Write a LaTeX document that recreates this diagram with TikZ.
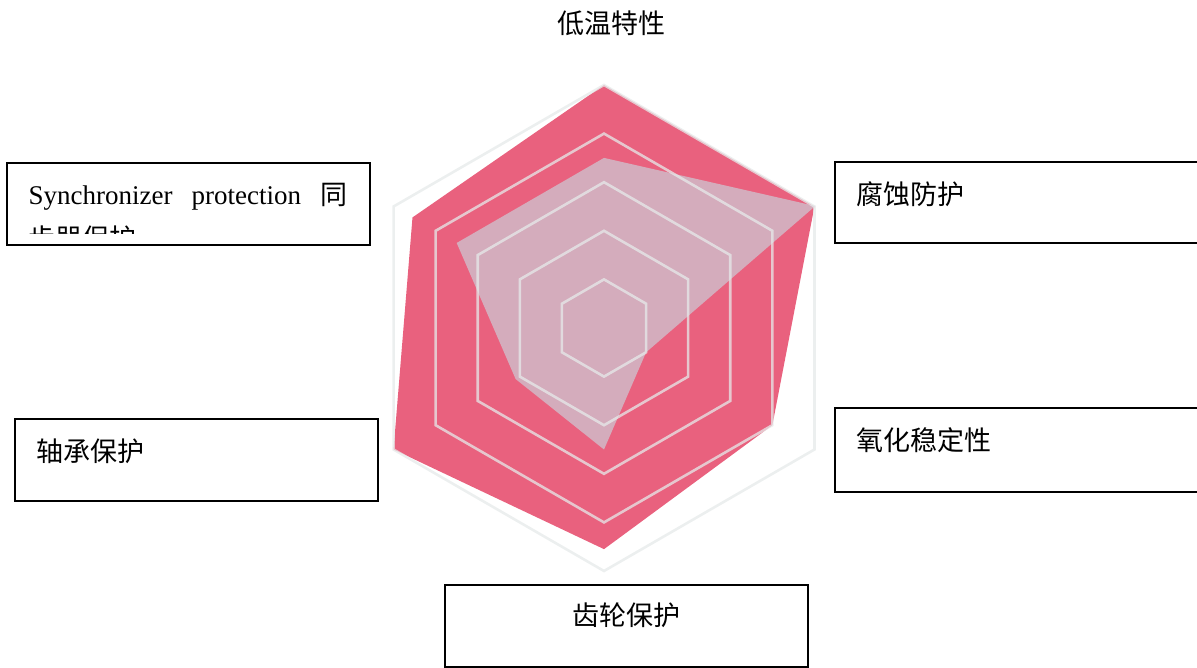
\documentclass[tikz,border=0pt]{standalone}
\usepackage{fontspec}
\setmainfont{Liberation Serif}
\newfontfamily\cjk{Noto Sans CJK SC}
\definecolor{redfill}{RGB}{233,97,126}
\definecolor{lightfill}{RGB}{205,202,212}
\definecolor{ringcol}{RGB}{230,234,234}
\begin{document}
\begin{tikzpicture}[x=1pt,y=-1pt,
  box/.style={draw=black, line width=1.5pt, fill=white, inner sep=0pt},
  lbl/.style={inner sep=0pt, font=\fontsize{27pt}{33pt}\selectfont\cjk},
  ring/.style={draw=ringcol, line width=2.6pt, opacity=0.75, line join=miter},
  redpoly/.style={fill=redfill},
  lightpoly/.style={fill=lightfill, fill opacity=0.72}]
\useasboundingbox (0,0) rectangle (1197,668);
\clip (0,0) rectangle (1197,668);
\coordinate (O) at (604,328);
% radar chart
\begin{scope}[shift={(O)}]
  \fill[redpoly] (90:243pt) -- (30:243pt) -- (-30:{0.8*243pt}) -- (-90:{0.91*243pt})
     -- (-150:243pt) -- (150:{0.91*243pt}) -- cycle;
  \fill[lightpoly] (90:{0.7*243pt}) -- (30:244pt) -- (-30:{0.2*243pt}) -- (-90:{0.5*243pt})
     -- (-150:{0.42*243pt}) -- (150:{0.7*243pt}) -- cycle;
  \foreach \k in {1,...,5}{
    \draw[ring] (90:{\k*48.6pt}) -- (30:{\k*48.6pt}) -- (-30:{\k*48.6pt}) -- (-90:{\k*48.6pt})
      -- (-150:{\k*48.6pt}) -- (150:{\k*48.6pt}) -- cycle;
  }
\end{scope}
% title
\node[lbl] (title) at (611.5,23.5) {低温特性};
% boxes
\node[box, minimum width=363pt, minimum height=82pt] (sync) at (188.5,204) {};
\node[box, minimum width=380pt, minimum height=81pt] (corr) at (1025,202.5) {};
\node[box, minimum width=380pt, minimum height=84pt] (oxid) at (1025,450) {};
\node[box, minimum width=363pt, minimum height=82pt] (gear) at (626.5,626) {};
\node[box, minimum width=363pt, minimum height=82pt] (bear) at (196.5,460) {};
% box texts
\begin{scope}
  \clip (8,164) rectangle (369,234);
  \node[inner sep=0pt, anchor=base west, font=\fontsize{27pt}{33pt}\selectfont] (synct1) at (28.5,205)
    {\makebox[318.5pt][s]{Synchronizer\hfill protection\hfill {\cjk 同}}};
  \node[lbl, anchor=base west] (synct2) at (28.5,249) {步器保护};
\end{scope}
\node[lbl, anchor=west] (corrt) at (856.5,194) {腐蚀防护};
\node[lbl, anchor=west] (oxidt) at (856.5,440.5) {氧化稳定性};
\node[lbl] (geart) at (626.5,615.5) {齿轮保护};
\node[lbl, anchor=west] (beart) at (36.5,451) {轴承保护};
\end{tikzpicture}
\end{document}
